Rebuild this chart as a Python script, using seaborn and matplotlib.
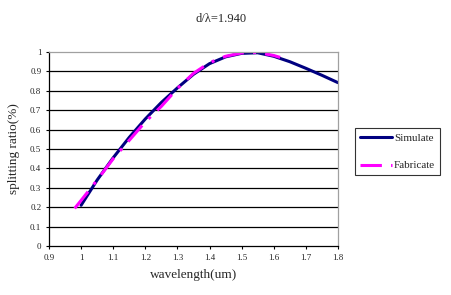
import matplotlib
matplotlib.use('Agg')
import matplotlib.pyplot as plt
import seaborn as sns
import pandas as pd

# values
sim_wl = [1.00, 1.05, 1.10, 1.15, 1.20, 1.25, 1.30, 1.35, 1.40, 1.45, 1.50, 1.55, 1.60, 1.65, 1.70, 1.75, 1.80]
sim_ratio = [0.21, 0.34, 0.455, 0.56, 0.655, 0.74, 0.815, 0.885, 0.94, 0.975, 0.993, 0.996, 0.978, 0.95, 0.916, 0.88, 0.842]

fab_wl = [0.98, 1.00, 1.05, 1.10, 1.15, 1.20, 1.25, 1.30, 1.35, 1.40, 1.45, 1.50, 1.55, 1.60, 1.62]
fab_ratio = [0.194, 0.235, 0.34, 0.45, 0.545, 0.64, 0.72, 0.812, 0.89, 0.945, 0.978, 0.995, 0.998, 0.982, 0.972]

x_ticks = [0.9, 1.0, 1.1, 1.2, 1.3, 1.4, 1.5, 1.6, 1.7, 1.8]
x_labels = ['0.9', '1', '1.1', '1.2', '1.3', '1.4', '1.5', '1.6', '1.7', '1.8']
y_ticks = [0, 0.1, 0.2, 0.3, 0.4, 0.5, 0.6, 0.7, 0.8, 0.9, 1.0]
y_labels = ['0', '0.1', '0.2', '0.3', '0.4', '0.5', '0.6', '0.7', '0.8', '0.9', '1']

df = pd.concat([
    pd.DataFrame({'wl': sim_wl, 'ratio': sim_ratio, 'series': 'Simulate'}),
    pd.DataFrame({'wl': fab_wl, 'ratio': fab_ratio, 'series': 'Fabricate'}),
])

sns.set_style('white')
plt.rcParams['font.family'] = ['Liberation Serif', 'DejaVu Serif']

fig = plt.figure(figsize=(4.51, 2.95), dpi=100)
ax = fig.add_axes([0.1086, 0.166, 0.6408, 0.6577])

sns.lineplot(data=df, x='wl', y='ratio', hue='series', style='series',
             palette={'Simulate': '#000080', 'Fabricate': '#FF00FF'},
             dashes={'Simulate': '', 'Fabricate': (7, 3, 1, 3)},
             sort=False, linewidth=2.2, ax=ax, legend=True)

ax.set_xlim(0.9, 1.8)
ax.set_ylim(0, 1)
ax.set_xticks(x_ticks)
ax.set_xticklabels(x_labels, fontsize=6.5)
ax.set_yticks(y_ticks)
ax.set_yticklabels(y_labels, fontsize=6.5)
ax.tick_params(axis='both', length=2.5, width=0.8, color='black', pad=3,
               bottom=True, left=True)
for y in y_ticks[1:-1]:
    ax.axhline(y, color='black', linewidth=0.9, zorder=0)

for side in ['top', 'right']:
    ax.spines[side].set_color('#a0a0a0')
    ax.spines[side].set_linewidth(0.9)
for side in ['left', 'bottom']:
    ax.spines[side].set_color('black')
    ax.spines[side].set_linewidth(0.9)

ax.set_xlabel('wavelength(um)', fontsize=9.5, labelpad=5)
ax.set_ylabel('splitting ratio(%)', fontsize=9.5, labelpad=7)
fig.text(0.49, 0.935, 'd/λ=1.940', ha='center', va='center', fontsize=9)

leg = ax.legend(loc='upper left', bbox_to_anchor=(1.058, 0.608), fontsize=8,
                frameon=True, fancybox=False, handlelength=2.9,
                borderpad=0.45, labelspacing=1.6, handletextpad=0.2,
                borderaxespad=0)
leg.get_frame().set_edgecolor('black')
leg.get_frame().set_linewidth(0.8)

fig.savefig('out.png', dpi=100)
